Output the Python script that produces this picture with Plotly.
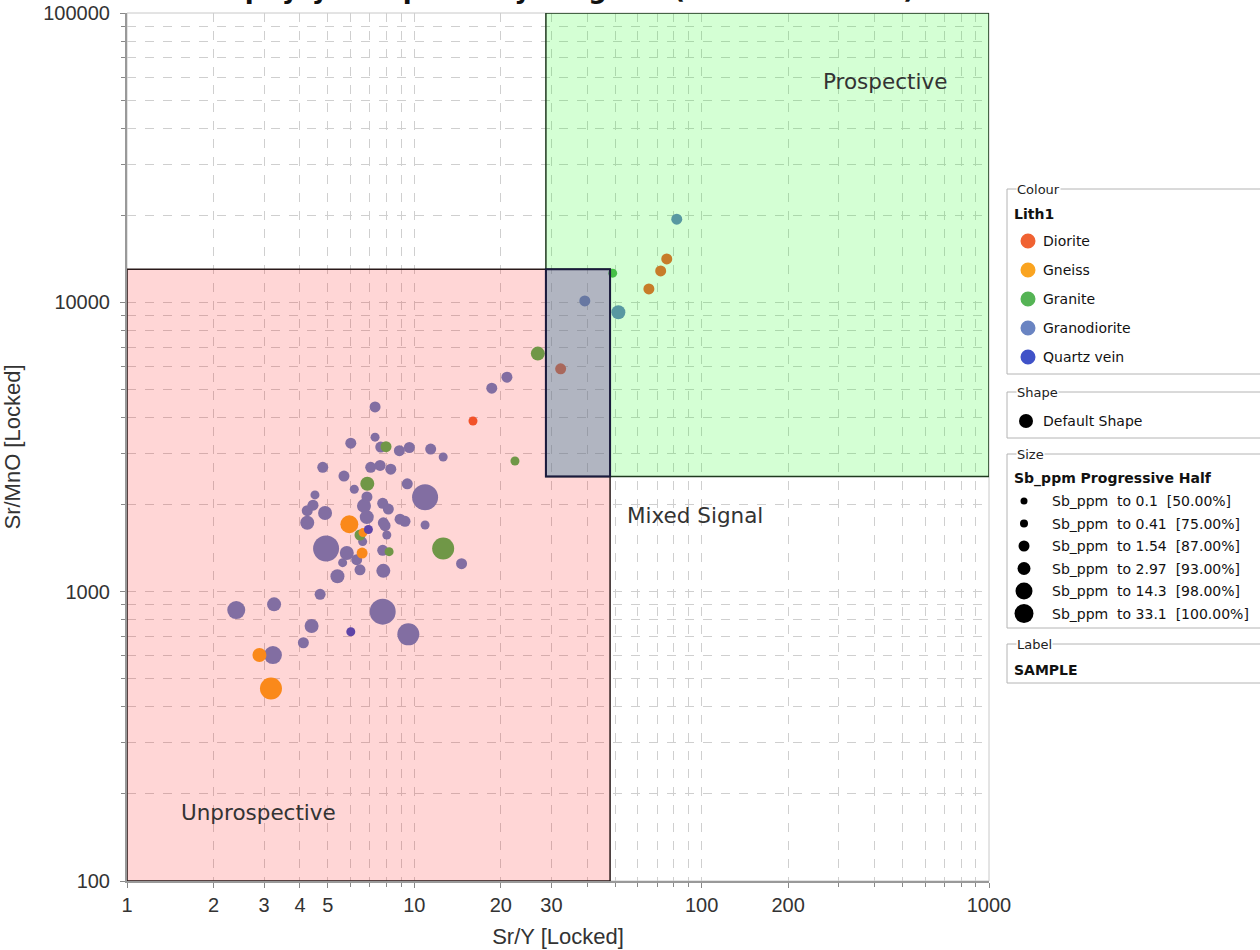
import plotly.graph_objects as go

# ---------------- DATA ----------------
lith_names = ["Diorite", "Gneiss", "Granite", "Granodiorite", "Quartz vein"]
lith_colors = ["#f06232", "#faa420", "#55b455", "#6a84c2", "#4052c8"]

granodiorite_x = [18.6, 21.0, 7.30, 7.30, 6.01, 7.64, 8.87, 9.61, 11.4, 12.6, 4.80, 7.05, 7.60, 8.28,
                  5.69, 9.45, 6.18, 10.9, 4.51, 4.24, 4.44, 4.89, 4.24, 6.68, 7.76, 8.12, 6.83, 7.80,
                  7.91, 8.92, 9.28, 10.9, 8.02, 4.93, 6.61, 5.82, 7.76, 5.63, 6.30, 6.47, 7.80, 14.6,
                  5.40, 4.70, 2.40, 3.25, 7.76, 4.39, 9.53, 4.11, 3.22, 39.2, 51.3, 81.9, 6.84]
granodiorite_y = [5050, 5510, 4350, 3420, 3260, 3160, 3070, 3150, 3110, 2920, 2690, 2690, 2730, 2650,
                  2510, 2360, 2260, 2120, 2160, 1905, 1990, 1870, 1730, 1980, 2020, 1930, 1810, 1730,
                  1690, 1780, 1750, 1700, 1570, 1410, 1490, 1360, 1390, 1260, 1290, 1190, 1180, 1250,
                  1130, 979, 864, 904, 853, 761, 712, 666, 604, 10110, 9240, 19380, 2125]
granodiorite_sb = [0.3, 0.3, 0.3, 0.08, 0.3, 0.3, 0.3, 0.3, 0.3, 0.08, 0.3, 0.3, 0.3, 0.3,
                   0.3, 0.3, 0.08, 25, 0.08, 0.3, 0.3, 1.2, 1.2, 1.2, 0.3, 0.3, 1.2, 0.3,
                   0.3, 0.3, 0.3, 0.08, 0.08, 25, 0.08, 1.2, 0.3, 0.08, 0.3, 0.3, 1.2, 0.3,
                   1.2, 0.3, 2.5, 1.2, 25, 1.2, 10, 0.3, 2.5, 0.3, 1.2, 0.3, 0.3]

granite_x = [7.97, 6.86, 6.47, 8.17, 12.6, 22.4, 26.9, 49.0]
granite_y = [3170, 2360, 1570, 1375, 1410, 2830, 6650, 12610]
granite_sb = [0.3, 1.2, 0.3, 0.08, 10, 0.08, 1.2, 0.08]

gneiss_x = [5.94, 6.58, 2.89, 3.17, 6.63]
gneiss_y = [1710, 1360, 604, 463, 1600]
gneiss_sb = [2.5, 0.3, 1.2, 10, 0.08]

diorite_x = [16.0, 32.3, 65.5, 72.0, 75.6]
diorite_y = [3890, 5890, 11130, 12840, 14130]
diorite_sb = [0.08, 0.3, 0.3, 0.3, 0.3]

quartz_x = [6.92, 6.01]
quartz_y = [1640, 727]
quartz_sb = [0.08, 0.08]

# size classes (Sb_ppm Progressive Half)
sb_thresholds = [0.1, 0.41, 1.54, 2.97, 14.3, 33.1]
sb_percent = ["50.00%", "75.00%", "87.00%", "93.00%", "98.00%", "100.00%"]

# region limits
unprosp_x = [1, 48]
unprosp_y = [100, 13000]
prosp_x = [28.7, 1000]
prosp_y = [2500, 100000]

x_tickvals = [1, 2, 3, 4, 5, 10, 20, 30, 100, 200, 1000]
x_ticktext = ["1", "2", "3", "4", "5", "10", "20", "30", "100", "200", "1000"]
y_tickvals = [100, 1000, 10000, 100000]
y_ticktext = ["100", "1000", "10000", "100000"]

# ---------------- STYLE ----------------
plot_sizes = [9, 11, 14, 18, 22, 26]
legend_sizes = [7, 8, 11, 13, 17, 19]
L, R, T, B = 127, 271, 13, 69
W, H = 1260, 950
PW, PH = W - L - R, H - T - B


def px_x(p):
    return (p - L) / PW


def px_y(q):
    return (H - B - q) / PH


def sb_size(v):
    for t, s in zip(sb_thresholds, plot_sizes):
        if v <= t:
            return s
    return plot_sizes[-1]


fig = go.Figure()
series = [
    ("Granodiorite", granodiorite_x, granodiorite_y, granodiorite_sb),
    ("Granite", granite_x, granite_y, granite_sb),
    ("Gneiss", gneiss_x, gneiss_y, gneiss_sb),
    ("Diorite", diorite_x, diorite_y, diorite_sb),
    ("Quartz vein", quartz_x, quartz_y, quartz_sb),
]
for name, xs, ys, sbs in series:
    col = lith_colors[lith_names.index(name)]
    fig.add_trace(go.Scatter(
        x=xs, y=ys, mode="markers", name=name, showlegend=False,
        marker=dict(color=col, size=[sb_size(v) for v in sbs], opacity=1, line=dict(width=0)),
    ))

minor_vals = [m * d for d in [1, 10, 100] for m in range(2, 10)]
minor_y = [m * d for d in [100, 1000, 10000] for m in range(2, 10)]
gridc = "#cfcfcf"
tickfont = dict(family="Liberation Sans, Arial, sans-serif", size=20, color="#333")
titlefont = dict(family="Liberation Sans, Arial, sans-serif", size=22, color="#333")

fig.update_xaxes(
    type="log", range=[0, 3], tickmode="array", tickvals=x_tickvals, ticktext=x_ticktext,
    showgrid=True, gridcolor=gridc, griddash="dash", gridwidth=1,
    minor=dict(tickmode="array", tickvals=minor_vals, showgrid=True, gridcolor=gridc, griddash="dash",
               ticks="outside", ticklen=4, tickcolor="#888"),
    ticks="outside", ticklen=5, tickcolor="#888",
    showline=True, linecolor="#999", linewidth=2, zeroline=False,
    tickfont=tickfont, title=dict(text="Sr/Y [Locked]", font=titlefont, standoff=14),
)
fig.update_yaxes(
    type="log", range=[2, 5], tickmode="array", tickvals=y_tickvals, ticktext=y_ticktext,
    showgrid=True, gridcolor=gridc, griddash="dash", gridwidth=1,
    minor=dict(tickmode="array", tickvals=minor_y, showgrid=True, gridcolor=gridc, griddash="dash",
               ticks="outside", ticklen=4, tickcolor="#888"),
    ticks="outside", ticklen=5, tickcolor="#888", ticklabelstandoff=6,
    showline=True, linecolor="#999", linewidth=2, zeroline=False,
    tickfont=tickfont, title=dict(text="Sr/MnO [Locked]", font=titlefont, standoff=22),
)

shapes = []
# plot frame
shapes.append(dict(type="rect", xref="paper", yref="paper", x0=0, x1=1, y0=0, y1=1,
                   line=dict(color="#c8c8c8", width=1), layer="below"))
# regions (drawn above points, translucent)
shapes.append(dict(type="rect", xref="x", yref="y", x0=unprosp_x[0], x1=unprosp_x[1],
                   y0=unprosp_y[0], y1=unprosp_y[1], fillcolor="rgba(255,0,0,0.16)",
                   line=dict(color="#2a1a1a", width=1.5), layer="above"))
shapes.append(dict(type="rect", xref="x", yref="y", x0=prosp_x[0], x1=prosp_x[1],
                   y0=prosp_y[0], y1=prosp_y[1], fillcolor="rgba(0,255,0,0.17)",
                   line=dict(color="#1f3a1f", width=1.5), layer="above"))
shapes.append(dict(type="rect", xref="x", yref="y", x0=prosp_x[0], x1=unprosp_x[1],
                   y0=prosp_y[0], y1=unprosp_y[1], fillcolor="rgba(95,88,228,0.30)",
                   line=dict(color="#1a1a3c", width=2), layer="above"))

annotations = []
rfont = dict(family="DejaVu Sans, sans-serif", size=21.5, color="#333")
annotations.append(dict(text="Prospective", xref="paper", yref="paper", x=px_x(885), y=px_y(81),
                        xanchor="center", yanchor="middle", showarrow=False, font=rfont))
annotations.append(dict(text="Mixed Signal", xref="paper", yref="paper", x=px_x(625), y=px_y(515),
                        xanchor="left", yanchor="middle", showarrow=False, font=rfont))
annotations.append(dict(text="Unprospective", xref="paper", yref="paper", x=px_x(179), y=px_y(812),
                        xanchor="left", yanchor="middle", showarrow=False, font=rfont))

# title (mostly cut off at top of the view)
annotations.append(dict(text="<b>Porphyry Prospectivity Diagram (Sr/Y vs Sr/MnO)</b>", xref="paper",
                        yref="paper", x=px_x(555), y=px_y(6), xanchor="center", yanchor="bottom",
                        showarrow=False, font=dict(family="DejaVu Sans, sans-serif", size=26, color="#111")))

# ---------------- custom legend panels ----------------
lfont = dict(family="DejaVu Sans, sans-serif", size=14, color="#111")
hfont = dict(family="DejaVu Sans, sans-serif", size=13, color="#222")
box_left, box_right = 1007, 1275


def group_box(top, bottom, label):
    shapes.append(dict(type="rect", xref="paper", yref="paper", x0=px_x(box_left), x1=px_x(box_right),
                       y0=px_y(bottom), y1=px_y(top), line=dict(color="#b4b4b4", width=1),
                       fillcolor="rgba(0,0,0,0)", layer="above"))
    annotations.append(dict(text=label, xref="paper", yref="paper", x=px_x(1016), y=px_y(top),
                            xanchor="left", yanchor="middle", showarrow=False, font=hfont,
                            bgcolor="white", borderpad=0))


def text_at(x, y, txt, font=lfont):
    annotations.append(dict(text=txt, xref="paper", yref="paper", x=px_x(x), y=px_y(y),
                            xanchor="left", yanchor="middle", showarrow=False, font=font))


def dot(cx, cy, d, color):
    r = d / 2
    shapes.append(dict(type="circle", xref="paper", yref="paper", xsizemode="pixel", ysizemode="pixel",
                       xanchor=px_x(cx), yanchor=px_y(cy), x0=-r, x1=r, y0=-r, y1=r,
                       fillcolor=color, line=dict(width=0), layer="above"))


group_box(189, 374, "Colour")
text_at(1012, 214, "<b>Lith1</b>")
for i, (n, c) in enumerate(zip(lith_names, lith_colors)):
    yy = 241 + i * 29
    dot(1028, yy, 15, c)
    text_at(1041, yy, n)

group_box(392, 438, "Shape")
dot(1026, 421, 14, "#000")
text_at(1041, 421, "Default Shape")

group_box(454, 628, "Size")
text_at(1012, 478, "<b>Sb_ppm Progressive Half</b>")
for i, (t, p) in enumerate(zip(sb_thresholds, sb_percent)):
    yy = 501 + i * 22.5
    dot(1024, yy, legend_sizes[i], "#000")
    text_at(1050, yy, f"Sb_ppm\u00a0 to {t}\u00a0 [{p}]")

group_box(644, 683, "Label")
text_at(1012, 670, "<b>SAMPLE</b>")

fig.update_layout(
    width=W, height=H,
    margin=dict(l=L, r=R, t=T, b=B, autoexpand=False),
    plot_bgcolor="white", paper_bgcolor="white",
    shapes=shapes, annotations=annotations, showlegend=False,
)

fig.write_html("out.html", config={"displayModeBar": False},
               post_script="document.body.style.margin='0';")
